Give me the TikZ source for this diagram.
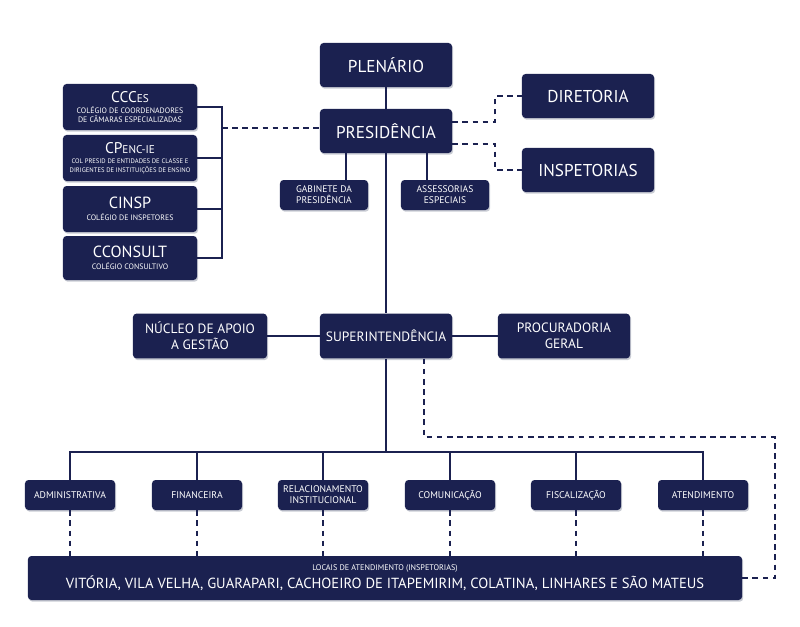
\documentclass[tikz,border=0pt]{standalone}
\usepackage{fontspec}
\setmainfont{PT Sans}
\usepackage{tikz}
\usetikzlibrary{positioning,calc,shadows}
\definecolor{creanavy}{HTML}{1B2150}
\definecolor{creashade}{HTML}{C9CCD4}
\newcommand{\ttl}[1]{{\fontsize{11}{12.5}\selectfont #1}}
\newcommand{\ttlsc}[1]{{\fontsize{8}{9}\selectfont #1}}

\begin{document}
\begin{tikzpicture}[x=0.025cm,y=-0.025cm,
  base/.style={rounded corners=2.5pt,fill=creanavy,text=white,align=center,inner sep=0pt,
    drop shadow={shadow xshift=0.8pt,shadow yshift=-1.2pt,fill=creashade,opacity=1}},
  big/.style={base,minimum width=3.3cm,minimum height=1.1cm,font=\fontsize{12.2}{13.5}\selectfont},
  mid/.style={base,minimum width=3.3cm,minimum height=1.12cm,font=\fontsize{9.6}{11.5}\selectfont},
  sub/.style={base,minimum width=2.2cm,minimum height=0.75cm,font=\fontsize{6.8}{7.8}\selectfont},
  coll/.style={base,minimum width=3.35cm,minimum height=1.15cm,font=\fontsize{5.6}{6.6}\selectfont},
  dept/.style={base,minimum width=2.25cm,minimum height=0.75cm,font=\fontsize{6.9}{7.8}\selectfont},
  link/.style={draw=creanavy,line width=1.4pt},
  dsh/.style={link,dash pattern=on 4pt off 3.2pt}]

  \useasboundingbox (0,0) rectangle (800,626);

  \node[big] (plen) at (386,65) {PLENÁRIO};
  \node[big] (pres) at (386,131) {PRESIDÊNCIA};
  \node[big] (dir) at (588,96) {DIRETORIA};
  \node[big] (insp) at (588,170) {INSPETORIAS};
  \node[sub] (gab) at (324,195) {GABINETE DA\\PRESIDÊNCIA};
  \node[sub] (ass) at (445,195) {ASSESSORIAS\\ESPECIAIS};

  % colegiados
  \node[coll] (cces) at (130,107) {\ttl{CCC\ttlsc{ES}}\\[1.5pt]COLÉGIO DE COORDENADORES\\DE CÂMARAS ESPECIALIZADAS};
  \node[coll,font=\fontsize{4.7}{6}\selectfont] (cpen) at (130,158) {\ttl{CP\ttlsc{ENC-IE}}\\[1.5pt]COL PRESID DE ENTIDADES DE CLASSE E\\DIRIGENTES DE INSTITUIÇÕES DE ENSINO};
  \node[coll] (cinsp) at (130,209) {{\fontsize{11.5}{13}\selectfont CINSP}\\[2pt]COLÉGIO DE INSPETORES};
  \node[coll,minimum height=1.1cm] (ccons) at (130,258) {{\fontsize{11.5}{13}\selectfont CCONSULT}\\[2pt]COLÉGIO CONSULTIVO};

  \coordinate (brk) at (222,128);
  \draw[link] (cces.east) -| (brk) |- (ccons.east);
  \draw[link] (cpen.east) -- (cpen.east -| brk);
  \draw[link] (cinsp.east) -- (cinsp.east -| brk);
  \draw[dsh] (brk) -- (brk -| pres.west);

  \draw[link] (plen) -- (pres);
  \draw[dsh] ($(pres.east)+(0,-9)$) -- ++(43,0) |- (dir.west);
  \draw[dsh] ($(pres.east)+(0,13)$) -- ++(43,0) |- (insp.west);
  \draw[link] ($(gab.north)+(22,0)$) coordinate (gtop) -- (gtop |- pres.south);
  \draw[link] ($(ass.north)+(-18,0)$) coordinate (atop) -- (atop |- pres.south);

  % superintendencia
  \node[mid] (sup) at (386,336) {SUPERINTENDÊNCIA};
  \node[mid,minimum width=3.35cm] (nuc) at (200,336) {NÚCLEO DE APOIO\\A GESTÃO};
  \node[mid] (proc) at (564,336) {PROCURADORIA\\GERAL};
  \draw[link] (pres) -- (sup);
  \draw[link] (nuc) -- (sup);
  \draw[link] (sup) -- (proc);

  % gerencias
  \node[dept] (adm) at (70,495) {ADMINISTRATIVA};
  \node[dept] (fin) at (197,495) {FINANCEIRA};
  \node[dept] (rel) at (323,495) {RELACIONAMENTO\\INSTITUCIONAL};
  \node[dept] (com) at (450,495) {COMUNICAÇÃO};
  \node[dept] (fis) at (576,495) {FISCALIZAÇÃO};
  \node[dept] (aten) at (703,495) {ATENDIMENTO};

  \coordinate (bus) at (386,452);
  \draw[link] (sup.south) -- (bus);
  \draw[link] (adm.north) |- (bus) -| (aten.north);
  \draw[link] (fin.north) -- (fin.north |- bus);
  \draw[link] (rel.north) -- (rel.north |- bus);
  \draw[link] (com.north) -- (com.north |- bus);
  \draw[link] (fis.north) -- (fis.north |- bus);

  % locais de atendimento
  \node[base,minimum width=17.85cm,minimum height=1.1cm,font=\fontsize{5.8}{7}\selectfont] (loc) at (385,578)
    {LOCAIS DE ATENDIMENTO (INSPETORIAS)\\[1.5pt]{\fontsize{10.4}{12}\selectfont VITÓRIA, VILA VELHA, GUARAPARI, CACHOEIRO DE ITAPEMIRIM, COLATINA, LINHARES E SÃO MATEUS}};

  \draw[dsh] (adm.south) -- (adm.south |- loc.north);
  \draw[dsh] (fin.south) -- (fin.south |- loc.north);
  \draw[dsh] (rel.south) -- (rel.south |- loc.north);
  \draw[dsh] (com.south) -- (com.south |- loc.north);
  \draw[dsh] (fis.south) -- (fis.south |- loc.north);
  \draw[dsh] (aten.south) -- (aten.south |- loc.north);

  \coordinate (rt) at (775,437);
  \draw[dsh] ($(sup.south)+(38,0)$) |- (rt) |- (loc.east);

\end{tikzpicture}
\end{document}
